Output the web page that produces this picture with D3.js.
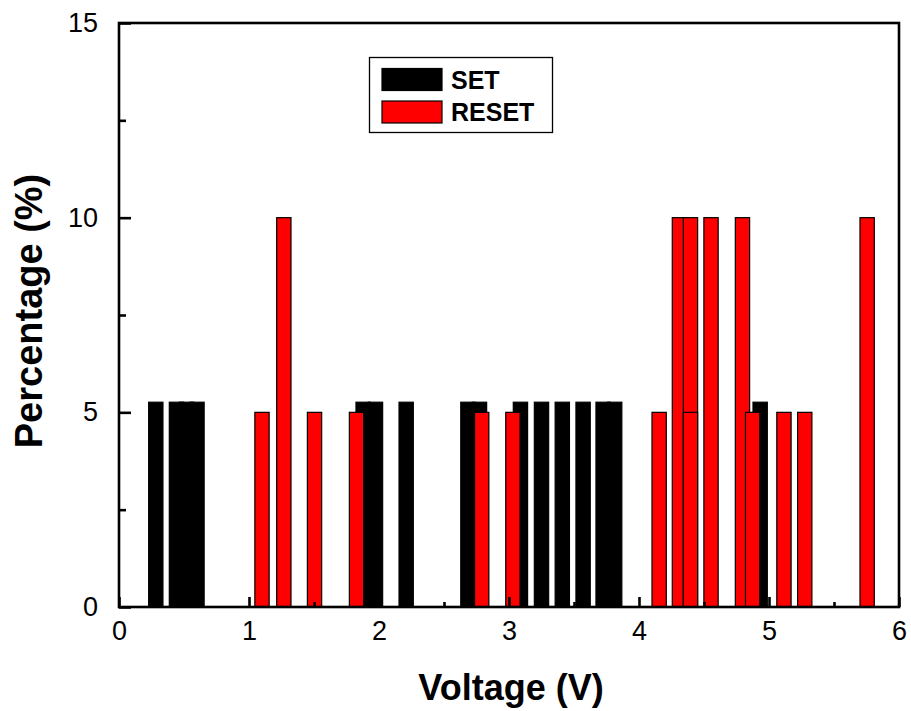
<!DOCTYPE html>
<html>
<head>
<meta charset="utf-8">
<script src="https://cdn.jsdelivr.net/npm/d3@7"></script>
<style>
  html, body { margin: 0; padding: 0; background: #fff; }
  svg { display: block; }
  text { font-family: "Liberation Sans", Arial, sans-serif; fill: #000; }
</style>
</head>
<body>
<svg id="chart" width="911" height="711"></svg>
<script>
// SET switching voltages (V) and their share of cycles (%)
const setVoltages = [0.283, 0.442, 0.52, 0.60, 1.878, 1.973, 2.209, 2.684, 2.773,
                     3.088, 3.25, 3.41, 3.57, 3.724, 3.813, 4.932];
const setPercent  = [5.26, 5.26, 5.26, 5.26, 5.26, 5.26, 5.26, 5.26, 5.26,
                     5.26, 5.26, 5.26, 5.26, 5.26, 5.26, 5.26];

// RESET switching voltages (V) and their share of cycles (%)
const resetVoltages = [1.10, 1.268, 1.504, 1.827, 2.79, 3.03, 4.155, 4.311, 4.396,
                       4.396, 4.554, 4.796, 4.874, 5.115, 5.275, 5.755];
const resetPercent  = [5, 10, 5, 5, 5, 5, 5, 10, 10,
                       5, 10, 10, 5, 5, 5, 10];

const xTicks = [0, 1, 2, 3, 4, 5, 6];
const xMinorTicks = [0.5, 1.5, 2.5, 3.5, 4.5, 5.5];
const yTicks = [0, 5, 10, 15];
const yMinorTicks = [2.5, 7.5, 12.5];

const seriesNames = ["SET", "RESET"];
const seriesColors = ["#000000", "#ff0000"];
const barWidthV = 0.11;

const svg = d3.select("#chart");
const x = d3.scaleLinear().domain([0, 6]).range([119, 899]);
const y = d3.scaleLinear().domain([0, 15]).range([607, 23]);

function drawBars(vs, ps, color, cls) {
  const data = vs.map((v, i) => ({ v, p: ps[i] }));
  svg.append("g").attr("class", cls)
    .selectAll("rect").data(data).enter().append("rect")
    .attr("x", d => x(d.v - barWidthV / 2))
    .attr("width", d => x(d.v + barWidthV / 2) - x(d.v - barWidthV / 2))
    .attr("y", d => y(d.p))
    .attr("height", d => y(0) - y(d.p))
    .attr("fill", color)
    .attr("stroke", "#000")
    .attr("stroke-width", 1.2);
}

drawBars(setVoltages, setPercent, seriesColors[0], "set-bars");
drawBars(resetVoltages, resetPercent, seriesColors[1], "reset-bars");

// Frame
const axisW = 2.6;
svg.append("rect")
  .attr("x", x(0)).attr("y", y(15))
  .attr("width", x(6) - x(0)).attr("height", y(0) - y(15))
  .attr("fill", "none").attr("stroke", "#000").attr("stroke-width", axisW);

// Bottom axis (inward ticks)
const xAxis = d3.axisBottom(x).tickValues(xTicks).tickSize(-10).tickPadding(14)
  .tickFormat(d3.format("d"));
const gx = svg.append("g").attr("transform", `translate(0,${y(0)})`).call(xAxis);
gx.select(".domain").remove();
gx.selectAll(".tick line").attr("stroke-width", axisW);
gx.selectAll(".tick text").attr("font-size", 27).attr("dy", "0.71em");
svg.append("g").attr("transform", `translate(0,${y(0)})`)
  .call(d3.axisBottom(x).tickValues(xMinorTicks).tickSize(-5).tickFormat(""))
  .call(g => g.select(".domain").remove())
  .selectAll(".tick line").attr("stroke-width", axisW);

// Left axis (inward ticks)
const yAxis = d3.axisLeft(y).tickValues(yTicks).tickSize(-12).tickPadding(21)
  .tickFormat(d3.format("d"));
const gy = svg.append("g").attr("transform", `translate(${x(0)},0)`).call(yAxis);
gy.select(".domain").remove();
gy.selectAll(".tick line").attr("stroke-width", axisW);
gy.selectAll(".tick text").attr("font-size", 27);
svg.append("g").attr("transform", `translate(${x(0)},0)`)
  .call(d3.axisLeft(y).tickValues(yMinorTicks).tickSize(-7).tickFormat(""))
  .call(g => g.select(".domain").remove())
  .selectAll(".tick line").attr("stroke-width", axisW);

svg.selectAll(".tick text").attr("font-family", "Liberation Sans, Arial, sans-serif").attr("fill", "#000");

// Axis titles
svg.append("text")
  .attr("x", 511).attr("y", 700)
  .attr("text-anchor", "middle")
  .attr("font-size", 36).attr("font-weight", "bold")
  .text("Voltage (V)");
svg.append("text")
  .attr("transform", `translate(42,${311}) rotate(-90)`)
  .attr("text-anchor", "middle")
  .attr("font-size", 38).attr("font-weight", "bold")
  .text("Percentage (%)");

// Legend
const legend = svg.append("g");
legend.append("rect")
  .attr("x", 369.5).attr("y", 57.5).attr("width", 183).attr("height", 75)
  .attr("fill", "#fff").attr("stroke", "#000").attr("stroke-width", 1.3);
seriesNames.forEach((name, i) => {
  const yy = 68.5 + i * 32.5;
  legend.append("rect")
    .attr("x", 382).attr("y", yy).attr("width", 60).attr("height", 22)
    .attr("fill", seriesColors[i]).attr("stroke", "#000").attr("stroke-width", 1.2);
  legend.append("text")
    .attr("x", 451).attr("y", yy + 20)
    .attr("font-size", 25).attr("font-weight", "bold")
    .text(name);
});
</script>
</body>
</html>
